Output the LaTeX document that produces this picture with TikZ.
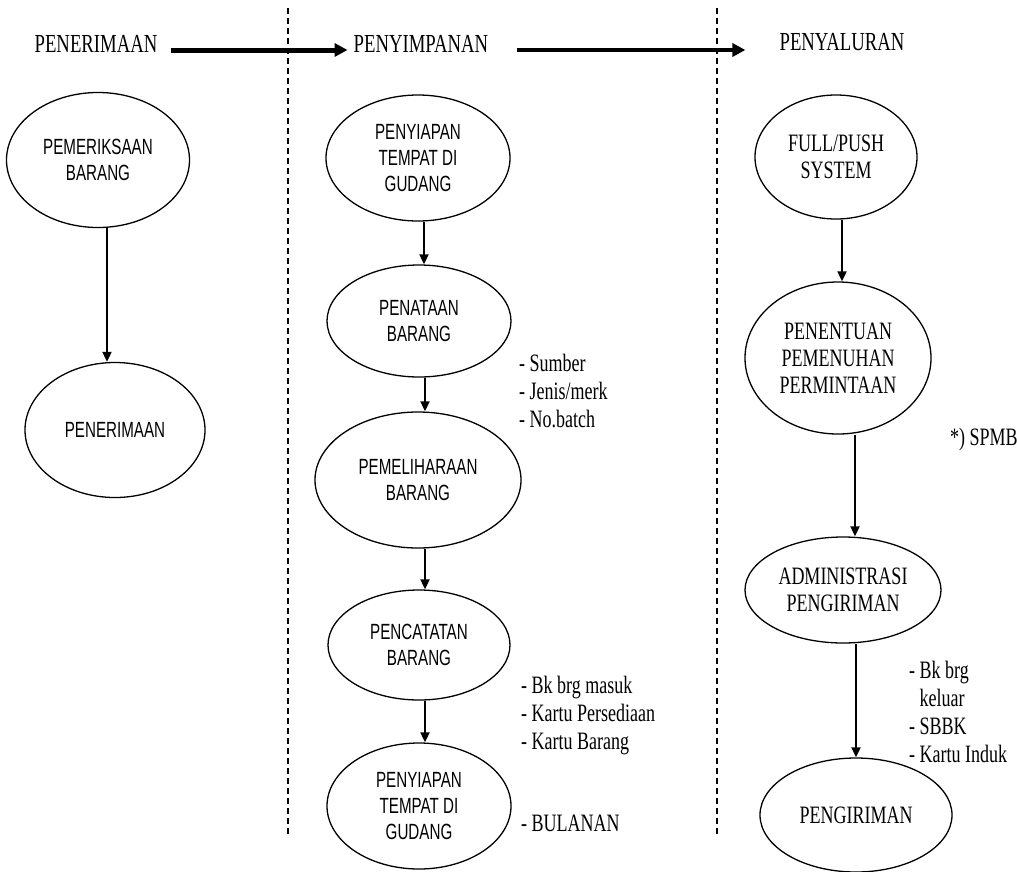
\documentclass[tikz,border=0pt]{standalone}
\usepackage{fontspec}
\setmainfont{Liberation Serif}
\newfontfamily\narrowsans[FakeStretch=0.69]{Liberation Sans}
\newfontfamily\narrowserif[FakeStretch=0.72]{Liberation Serif}
\usetikzlibrary{shapes.geometric,arrows.meta}

\tikzset{
  proses/.style={ellipse, draw, line width=1.3pt, inner sep=0pt, align=center},
  sansproses/.style={proses, font=\narrowsans\fontsize{22}{26}\selectfont},
  serifproses/.style={proses, font=\narrowserif\fontsize{25}{27}\selectfont},
  judul/.style={inner sep=0pt, anchor=base, font=\narrowserif\fontsize{26}{28}\selectfont},
  ket/.style={inner sep=0pt, anchor=west, align=left, font=\narrowserif\fontsize{25}{28}\selectfont},
  alur/.style={line width=1.8pt, -{Triangle[length=10pt,width=9pt]}},
  tebal/.style={-{Triangle[length=13pt,width=13pt]}},
  batas/.style={line width=1.6pt, dash pattern=on 6pt off 4pt}
}

\begin{document}
\begin{tikzpicture}[x=1pt,y=-1pt]
  \useasboundingbox (0,0) rectangle (1017,871);

  % judul tahap
  \node[judul] (hRec) at (96,52) {PENERIMAAN};
  \node[judul] (hSim) at (421,52) {PENYIMPANAN};
  \node[judul] (hSal) at (842,50) {PENYALURAN};

  \draw[tebal, line width=5pt, shorten <=13pt, shorten >=6pt]
    ([yshift=2pt]hRec.base east) -- ([yshift=2pt]hSim.base west);
  \draw[tebal, line width=4pt, shorten <=29pt, shorten >=34pt]
    ([yshift=2pt]hSim.base east) -- ([yshift=0pt]hSal.base west);

  \draw[batas] (288,8) -- (288,837);
  \draw[batas] (717,8) -- (717,837);

  % penerimaan
  \begin{scope}
    \node[sansproses, minimum width=183pt, minimum height=135pt]
      (periksa) at (98,160) {PEMERIKSAAN\\BARANG};
    \node[sansproses, minimum width=180pt, minimum height=135pt]
      (terima) at (115,430) {PENERIMAAN};

    \draw[alur] ([xshift=9pt]periksa.south) -- ([xshift=-8pt]terima.north);
  \end{scope}

  % penyimpanan
  \begin{scope}
    \node[sansproses, minimum width=184pt, minimum height=126pt]
      (siapA) at (418,158) {PENYIAPAN\\TEMPAT DI\\GUDANG};
    \node[sansproses, minimum width=184pt, minimum height=112pt]
      (tata) at (419,321) {PENATAAN\\BARANG};
    \node[sansproses, minimum width=206pt, minimum height=136pt]
      (pelihara) at (418,480) {PEMELIHARAAN\\BARANG};
    \node[sansproses, minimum width=182pt, minimum height=110pt]
      (catat) at (419,645) {PENCATATAN\\BARANG};
    \node[sansproses, minimum width=184pt, minimum height=126pt]
      (siapB) at (419,806) {PENYIAPAN\\TEMPAT DI\\GUDANG};

    \draw[alur] ([xshift=6pt]siapA.south) -- ([xshift=5pt]tata.north);
    \draw[alur] ([xshift=6pt]tata.south) -- ([xshift=7pt]pelihara.north);
    \draw[alur] ([xshift=7pt]pelihara.south) -- ([xshift=6pt]catat.north);
    \draw[alur] ([xshift=6pt]catat.south) -- ([xshift=6pt]siapB.north);

    \node[ket] (ketA) at (519,391) {- Sumber\\- Jenis/merk\\- No.batch};
    \node[ket] (ketB) at (521,716) {- Bk brg masuk\\- Kartu Persediaan\\- Kartu Barang};
    \node[ket] (ketC) at (521,823) {- BULANAN};
  \end{scope}

  % penyaluran
  \begin{scope}
    \node[serifproses, minimum width=162pt, minimum height=124pt]
      (fullpush) at (836,157) {FULL/PUSH\\SYSTEM};
    \node[serifproses, minimum width=186pt, minimum height=152pt]
      (tentu) at (838,358) {PENENTUAN\\PEMENUHAN\\PERMINTAAN};
    \node[serifproses, minimum width=196pt, minimum height=106pt]
      (admin) at (843,590) {ADMINISTRASI\\PENGIRIMAN};
    \node[serifproses, minimum width=192pt, minimum height=114pt]
      (kirim) at (856,815) {PENGIRIMAN};

    \draw[alur] ([xshift=6pt]fullpush.south) -- ([xshift=4pt]tentu.north);
    \draw[alur] ([xshift=17pt]tentu.south) -- ([xshift=12pt]admin.north);
    \draw[alur] ([xshift=13pt]admin.south) -- (kirim.north);

    \node[ket] (ketD) at (950,439) {*) SPMB};
    \node[ket] (ketE) at (909,712) {- Bk brg\\\phantom{- }keluar\\- SBBK\\- Kartu Induk};
  \end{scope}
\end{tikzpicture}
\end{document}
